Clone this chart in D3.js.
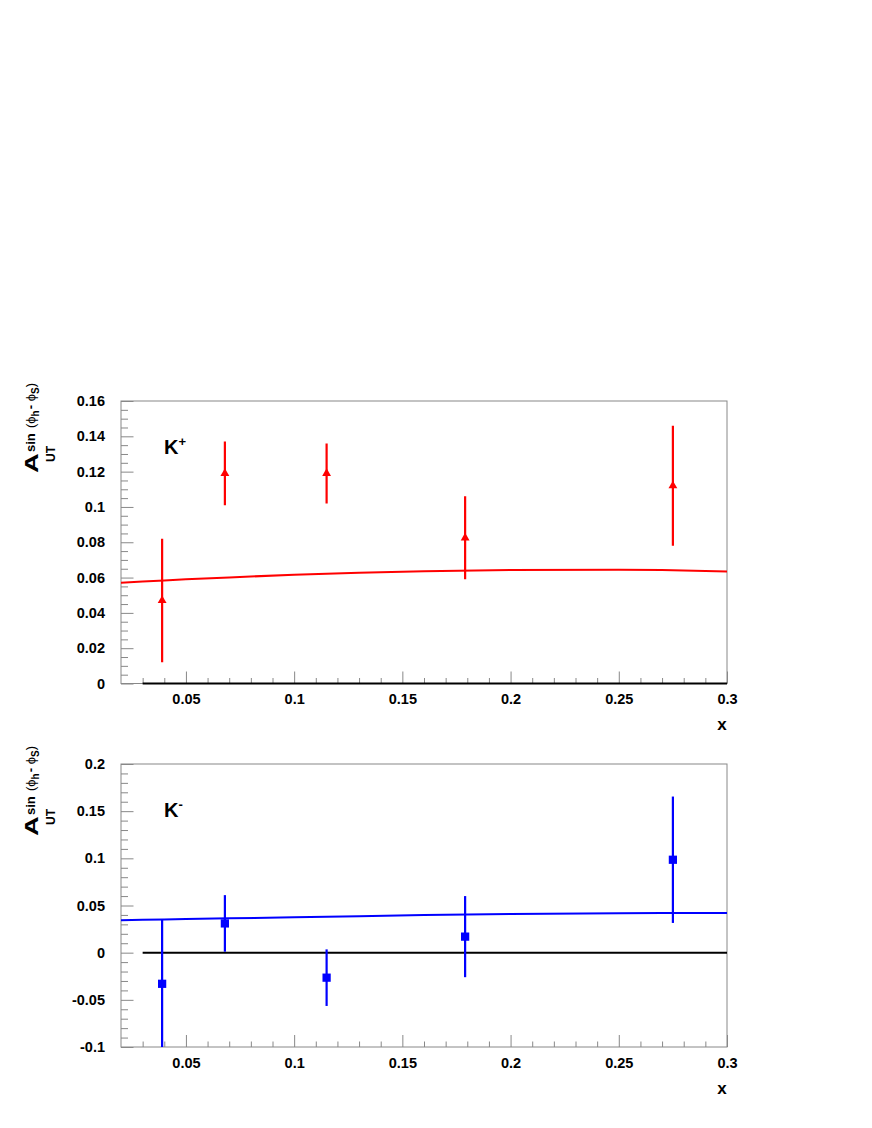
<!DOCTYPE html>
<html lang="en">
<head>
<meta charset="utf-8">
<title>Asymmetry vs x</title>
<script src="https://d3js.org/d3.v7.min.js"></script>
<style>
body { margin: 0; background: #fff; }
text { font-family: "Liberation Sans", Arial, sans-serif; font-weight: bold; }
</style>
</head>
<body>
<script>

// measured points (kaons), x bins
var xBins = [0.039, 0.068, 0.115, 0.179, 0.275];
var kPlusVal = [0.047, 0.119, 0.119, 0.0825, 0.112];
var kPlusErr = [0.035, 0.018, 0.017, 0.0235, 0.034];
var kMinusVal = [-0.033, 0.031, -0.0265, 0.017, 0.0985];
var kMinusErr = [0.068, 0.030, 0.030, 0.043, 0.067];

// model curves
var curveX = [0.02, 0.03, 0.04, 0.05, 0.07, 0.1, 0.13, 0.16, 0.2, 0.25, 0.27, 0.3];
var kPlusCurve = [0.0570, 0.0577, 0.0583, 0.0590, 0.0601, 0.0616, 0.0627, 0.0636, 0.0643, 0.0644, 0.0643, 0.0635];
var kMinusCurve = [0.0343, 0.0348, 0.0352, 0.0357, 0.0364, 0.0375, 0.0387, 0.0398, 0.0410, 0.0418, 0.0420, 0.0421];

var xMajor = [0.05, 0.1, 0.15, 0.2, 0.25, 0.3];
var topYTicks = [0, 0.02, 0.04, 0.06, 0.08, 0.1, 0.12, 0.14, 0.16];
var botYTicks = [-0.1, -0.05, 0, 0.05, 0.1, 0.15, 0.2];

var W = 872, H = 1128;
var left = 121, right = 727;
var frameCol = "#888";

var svg = d3.select("body").append("svg")
    .attr("width", W)
    .attr("height", H);

var x = d3.scaleLinear().domain([0.02, 0.3]).range([left, right]);

// minor x ticks every 0.01
var xMinor = d3.range(3, 30).map(function(d) { return d / 100; })
    .filter(function(d) { return Math.round(d * 100) % 5 !== 0; });

// plain hyphen for negatives, like the original
function fmt(d) { return String(+d.toFixed(3)); }

function panel(cfg) {
  var y = d3.scaleLinear().domain(cfg.ydom).range([cfg.bottom, cfg.top]);
  var g = svg.append("g");

  var clipId = "clip" + cfg.name;
  svg.append("clipPath").attr("id", clipId)
    .append("rect")
    .attr("x", left).attr("y", cfg.top)
    .attr("width", right - left).attr("height", cfg.bottom - cfg.top);

  // frame
  g.append("rect")
    .attr("x", left).attr("y", cfg.top)
    .attr("width", right - left).attr("height", cfg.bottom - cfg.top)
    .attr("fill", "none").attr("stroke", frameCol).attr("stroke-width", 1);

  // y axis
  var yMinor = d3.range(cfg.ydom[0], cfg.ydom[1] + 1e-9, cfg.yminor)
    .filter(function(v) { return cfg.yticks.every(function(t) { return Math.abs(t - v) > 1e-9; }); });

  var ya = g.append("g").attr("transform", "translate(" + left + ",0)")
    .call(d3.axisLeft(y).tickValues(cfg.yticks).tickSizeInner(-12.5).tickSizeOuter(0)
      .tickPadding(16).tickFormat(fmt));
  ya.select(".domain").remove();
  ya.selectAll("line").attr("stroke", frameCol);
  ya.selectAll("text").attr("font-size", 14.5).attr("fill", "#000")
    .attr("font-family", "Liberation Sans, Arial, sans-serif");

  var yb = g.append("g").attr("transform", "translate(" + left + ",0)")
    .call(d3.axisLeft(y).tickValues(yMinor).tickSizeInner(-7).tickSizeOuter(0).tickFormat(""));
  yb.select(".domain").remove();
  yb.selectAll("line").attr("stroke", frameCol);

  // x axis
  var xa = g.append("g").attr("transform", "translate(0," + cfg.bottom + ")")
    .call(d3.axisBottom(x).tickValues(xMajor).tickSizeInner(-12).tickSizeOuter(0)
      .tickPadding(10.5).tickFormat(fmt));
  xa.select(".domain").remove();
  xa.selectAll("line").attr("stroke", frameCol);
  xa.selectAll("text").attr("font-size", 14.5).attr("fill", "#000")
    .attr("font-family", "Liberation Sans, Arial, sans-serif");

  var xb = g.append("g").attr("transform", "translate(0," + cfg.bottom + ")")
    .call(d3.axisBottom(x).tickValues(xMinor).tickSizeInner(-5.5).tickSizeOuter(0).tickFormat(""));
  xb.select(".domain").remove();
  xb.selectAll("line").attr("stroke", frameCol);

  // zero line
  g.append("line")
    .attr("x1", x(0.03)).attr("x2", x(0.3))
    .attr("y1", y(0)).attr("y2", y(0))
    .attr("stroke", "#000").attr("stroke-width", 2);

  var data = g.append("g").attr("clip-path", "url(#" + clipId + ")");

  // model curve
  var line = d3.line()
    .x(function(d, i) { return x(curveX[i]); })
    .y(function(d) { return y(d); });
  data.append("path")
    .datum(cfg.curve)
    .attr("d", line)
    .attr("fill", "none")
    .attr("stroke", cfg.color)
    .attr("stroke-width", 2);

  // error bars
  data.selectAll(".err").data(cfg.vals).enter().append("line")
    .attr("x1", function(d, i) { return x(xBins[i]); })
    .attr("x2", function(d, i) { return x(xBins[i]); })
    .attr("y1", function(d, i) { return y(d - cfg.errs[i]); })
    .attr("y2", function(d, i) { return y(d + cfg.errs[i]); })
    .attr("stroke", cfg.color)
    .attr("stroke-width", 2.2);

  // markers
  var sym = d3.symbol().type(cfg.symbol).size(cfg.symSize);
  data.selectAll(".pt").data(cfg.vals).enter().append("path")
    .attr("d", sym)
    .attr("transform", function(d, i) { return "translate(" + x(xBins[i]) + "," + y(d) + ")"; })
    .attr("fill", cfg.color);

  // x title
  g.append("text")
    .attr("x", 722).attr("y", cfg.bottom + 46.5)
    .attr("text-anchor", "middle")
    .attr("font-size", 17)
    .text("x");

  // particle label
  var lab = g.append("text")
    .attr("x", 164).attr("y", cfg.top + 53)
    .attr("font-size", 20);
  lab.append("tspan").text("K");
  lab.append("tspan").attr("font-size", 13).attr("dy", -8).text(cfg.sign);

  // y title, rotated
  var t = g.append("g").attr("transform", "translate(38," + (cfg.top + 72) + ") rotate(-90)");
  t.append("text").attr("x", 0).attr("y", 0)
    .attr("font-size", 21).attr("transform", "scale(1.3,0.86)").text("A");
  t.append("text").attr("x", 21).attr("y", -3).attr("font-size", 13).text("sin");
  var sup = t.append("text").attr("x", 45).attr("y", -3).attr("font-size", 13);
  sup.append("tspan").attr("font-weight", "normal").text("(\u03d5");
  sup.append("tspan").attr("font-size", 10).attr("dy", 4).text("h");
  sup.append("tspan").attr("dy", -4).attr("dx", 1).text("- ");
  sup.append("tspan").attr("font-weight", "normal").text("\u03d5");
  sup.append("tspan").attr("font-size", 10).attr("dy", 4).text("S");
  sup.append("tspan").attr("dy", -4).attr("font-weight", "normal").text(")");
  t.append("text").attr("x", 11).attr("y", 17).attr("font-size", 12).text("UT");
}

panel({
  name: "top", top: 401, bottom: 683.5, ydom: [0, 0.16],
  yticks: topYTicks, yminor: 0.005,
  vals: kPlusVal, errs: kPlusErr, curve: kPlusCurve,
  color: "#ff0000", symbol: d3.symbolTriangle, symSize: 34, sign: "+"
});

panel({
  name: "bot", top: 764, bottom: 1047, ydom: [-0.1, 0.2],
  yticks: botYTicks, yminor: 0.01,
  vals: kMinusVal, errs: kMinusErr, curve: kMinusCurve,
  color: "#0000ff", symbol: d3.symbolSquare, symSize: 68, sign: "-"
});

</script>
</body>
</html>
